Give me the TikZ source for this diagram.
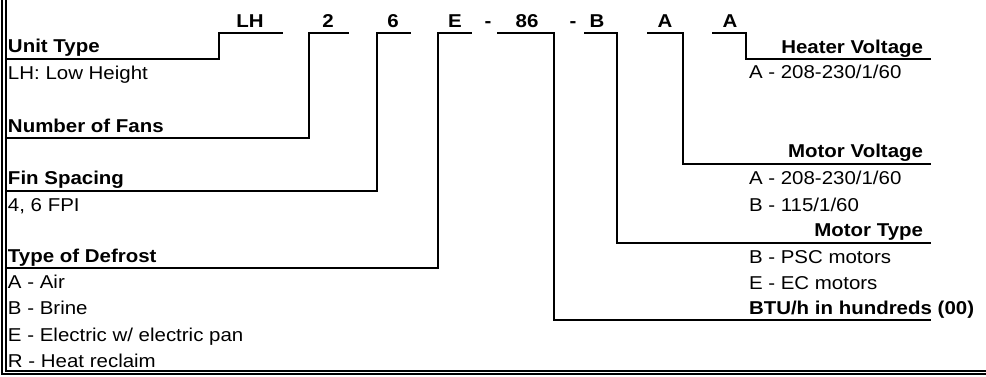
\documentclass[tikz,border=0pt]{standalone}
\usepackage{fontspec}
\setmainfont{Liberation Sans}[FakeStretch=1.1]
\begin{document}
\begin{tikzpicture}[x=1pt,y=-1pt,
  every node/.style={inner sep=0pt,outer sep=0pt,font=\fontsize{18.6}{22}\selectfont},
  code/.style={anchor=base,font=\fontsize{18.6}{22}\selectfont\bfseries},
  ttl/.style={font=\fontsize{18.6}{22}\selectfont\bfseries},
  ttlL/.style={ttl,anchor=base west},
  ttlR/.style={ttl,anchor=base east},
  item/.style={anchor=base west},
  wire/.style={line width=2pt,line cap=rect},
  frame/.style={line width=1.3pt}]
\useasboundingbox (0,0) rectangle (986,376);
% frame
\draw[frame] (2,0) -- (2,374) -- (986,374);
\draw[frame] (6,0) -- (6,371) -- (986,371);
% code letters
\node[code] (cLH) at (250,27) {LH};
\node[code] (c2) at (328,27) {2};
\node[code] (c6) at (393,27) {6};
\node[code] (cE) at (455,27) {E};
\node[code] (d1) at (488,27) {-};
\node[code] (c86) at (527,27) {86};
\node[code] (d2) at (573,27) {-};
\node[code] (cB) at (597,27) {B};
\node[code] (cA1) at (665,27) {A};
\node[code] (cA2) at (730,27) {A};
% left labels
\node[ttlL] (unit) at (8,52) {Unit Type};
\node[item] at (8,79) {LH: Low Height};
\node[ttlL] (fans) at (8,132) {Number of Fans};
\node[ttlL] (fin) at (8,184) {Fin Spacing};
\node[item] at (8,211) {4, 6 FPI};
\node[ttlL] (defr) at (8,262) {Type of Defrost};
\node[item] at (8,288) {A - Air};
\node[item] at (8,314) {B - Brine};
\node[item] at (8,341) {E - Electric w/ electric pan};
\node[item] at (8,367) {R - Heat reclaim};
% right labels
\node[ttlR] (heat) at (923,53) {Heater Voltage};
\node[item] at (749,78) {A - 208-230/1/60};
\node[ttlR] (mv) at (923,157) {Motor Voltage};
\node[item] at (749,184) {A - 208-230/1/60};
\node[item] at (749,211) {B - 115/1/60};
\node[ttlR] (mt) at (923,236) {Motor Type};
\node[item] at (749,263) {B - PSC motors};
\node[item] at (749,289) {E - EC motors};
\node[item,ttl] (btu) at (749,314) {BTU/h in hundreds (00)};
% connectors
\draw[wire] (282,33) -- (219,33) -- (219,59) -- (6,59);
\draw[wire] (348,33) -- (309,33) -- (309,138) -- (6,138);
\draw[wire] (410,33) -- (377,33) -- (377,191) -- (6,191);
\draw[wire] (471,33) -- (438,33) -- (438,268) -- (6,268);
\draw[wire] (498,33) -- (554,33) -- (554,320) -- (930,320);
\draw[wire] (585,33) -- (617,33) -- (617,243) -- (930,243);
\draw[wire] (648,33) -- (683,33) -- (683,164) -- (930,164);
\draw[wire] (713,33) -- (746,33) -- (746,59) -- (930,59);
\end{tikzpicture}
\end{document}
